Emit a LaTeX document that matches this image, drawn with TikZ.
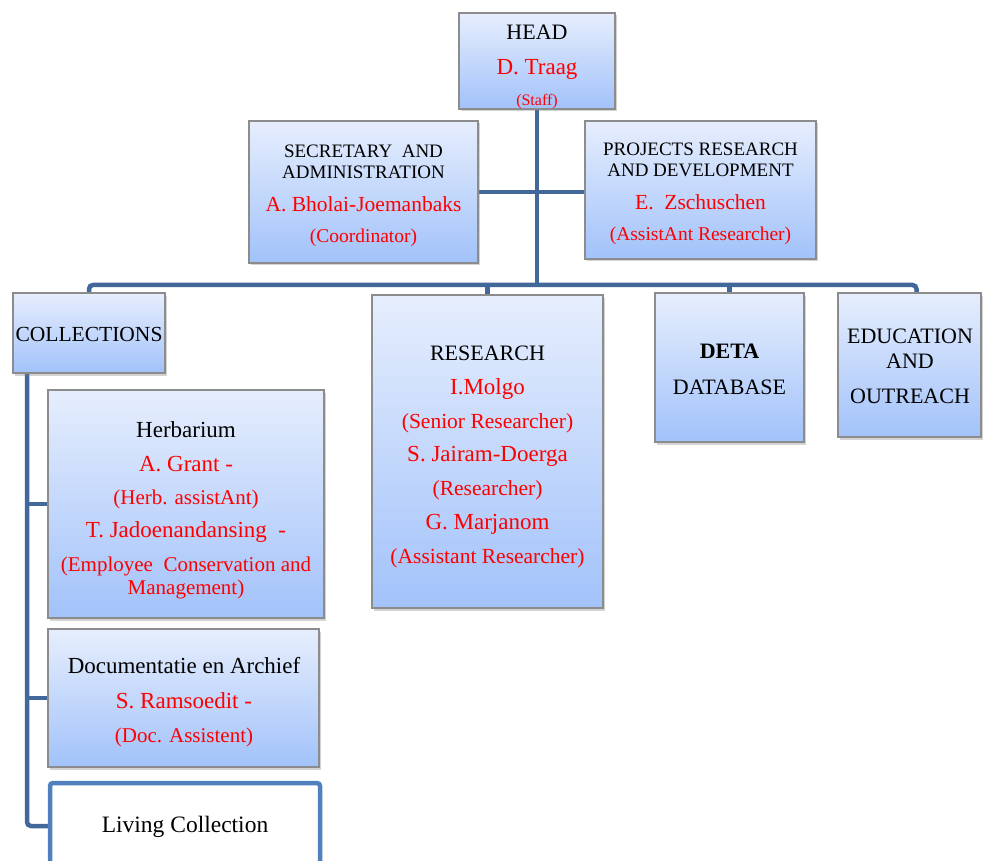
\documentclass[tikz,border=0pt]{standalone}
\usepackage{fontspec}
\setmainfont{Liberation Serif}
\usetikzlibrary{shadows}
\definecolor{conncol}{RGB}{66,104,155}
\definecolor{boxtop}{RGB}{230,238,253}
\definecolor{boxbot}{RGB}{162,194,250}
\definecolor{boxedge}{RGB}{140,140,140}
\definecolor{livedge}{RGB}{80,128,190}
\newcommand\fs[2]{\fontsize{#1}{#2}\selectfont}
\newcommand\rd[1]{\textcolor{red}{#1}}
\pgfdeclarelayer{bg}
\pgfsetlayers{bg,main}
\tikzset{
  unitbox/.style={draw=boxedge, line width=1.2pt, top color=boxtop, bottom color=boxbot,
    drop shadow={shadow xshift=1.5pt, shadow yshift=-2.5pt, opacity=0.35}, inner sep=0pt},
  livebox/.style={draw=livedge, line width=4.5pt, fill=white, rounded corners=3pt, inner sep=0pt},
  txt/.style={align=center, inner sep=0pt, text=black},
  conn/.style={draw=conncol, line width=4.5pt, rounded corners=4pt}
}
\begin{document}
\begin{tikzpicture}[x=1pt,y=-1pt]
\useasboundingbox (0,0) rectangle (983,861);
% boxes
\node[unitbox, minimum width=156, minimum height=96] (head) at (537,61) {};
\node[unitbox, minimum width=229, minimum height=142] (sec) at (363.5,192) {};
\node[unitbox, minimum width=231, minimum height=138] (proj) at (700.5,190) {};
\node[unitbox, minimum width=152, minimum height=80] (coll) at (89,333) {};
\node[unitbox, minimum width=231, minimum height=313] (res) at (487.5,451.5) {};
\node[unitbox, minimum width=149, minimum height=149] (deta) at (729.5,367.5) {};
\node[unitbox, minimum width=143, minimum height=144] (edu) at (909.5,365) {};
\node[unitbox, minimum width=276, minimum height=228] (herb) at (186,504) {};
\node[unitbox, minimum width=271, minimum height=138] (doc) at (183.5,698) {};
\node[livebox, minimum width=270, minimum height=86] (living) at (185,826) {};
% texts
\node[txt, font=\fs{22}{35}] (headt) at (537,67)
  {HEAD\\ \rd{\fs{23}{35}D. Traag}\\[-4pt] \rd{\fs{16}{35}(Staff)}};
\node[txt, font=\fs{19}{21}] (sect) at (363.5,195.5)
  {SECRETARY\ \ AND\\ADMINISTRATION\\[12pt] \rd{\fs{21.5}{21}A. Bholai-Joemanbaks}\\[10pt] \rd{\fs{19.5}{21}(Coordinator)}};
\node[txt, font=\fs{19}{21}] (projt) at (700.5,194)
  {PROJECTS RESEARCH\\AND DEVELOPMENT\\[12pt] \rd{\fs{21.5}{21}E.\ \ Zschuschen}\\[10pt] \rd{\fs{19.5}{21}(AssistAnt Researcher)}};
\node[txt, font=\fs{21.5}{30}] (collt) at (89,334) {COLLECTIONS};
\node[txt, font=\fs{22}{33.7}] (rest) at (487.5,457)
  {RESEARCH\\ \rd{\fs{23}{33.7}I.Molgo}\\ \rd{\fs{21.5}{33.7}(Senior Researcher)}\\
   \rd{\fs{23}{33.7}S. Jairam-Doerga}\\ \rd{\fs{21.5}{33.7}(Researcher)}\\
   \rd{\fs{23}{33.7}G. Marjanom}\\ \rd{\fs{21.5}{33.7}(Assistant Researcher)}};
\node[txt, font=\fs{22}{36}] (detat) at (729.5,369) {\textbf{DETA}\\DATABASE};
\node[txt, font=\fs{22}{25}] (edut) at (910,366) {EDUCATION\\AND\\[10pt]OUTREACH};
\node[txt, font=\fs{23}{34}] (herbt) at (186,510.5)
  {Herbarium\\ \rd{A. Grant -}\\[-1pt] \rd{\fs{21}{34}(Herb. assistAnt)}\\[-1pt]
   \rd{T. Jadoenandansing\ \ -}\\ \rd{\fs{21}{34}(Employee\ \ Conservation and}\\[-11pt]
   \rd{\fs{21}{34}Management)}};
\node[txt, font=\fs{23}{34.5}] (doct) at (184,702.5)
  {Documentatie en Archief\\ \rd{S. Ramsoedit -}\\ \rd{\fs{21}{34.5}(Doc. Assistent)}};
\node[txt, font=\fs{23.5}{30}] (livingt) at (185,827) {Living Collection};
% connectors
\coordinate (bus) at (537,285);
\begin{pgfonlayer}{bg}
\draw[conn] (head.south) -- (bus);
\draw[conn] (sec.east) -- (sec.east -| proj.west);
\draw[conn] (coll.north) |- (bus) -| ([xshift=7pt]edu.north);
\draw[conn] (bus -| res.north) -- (res.north);
\draw[conn] (bus -| deta.north) -- (deta.north);
\coordinate (spine) at ([xshift=-62pt]coll.south);
\draw[conn] (spine) |- (living.west);
\draw[conn] (spine |- herb.west) -- (herb.west);
\draw[conn] (spine |- doc.west) -- (doc.west);
\end{pgfonlayer}
\end{tikzpicture}
\end{document}
